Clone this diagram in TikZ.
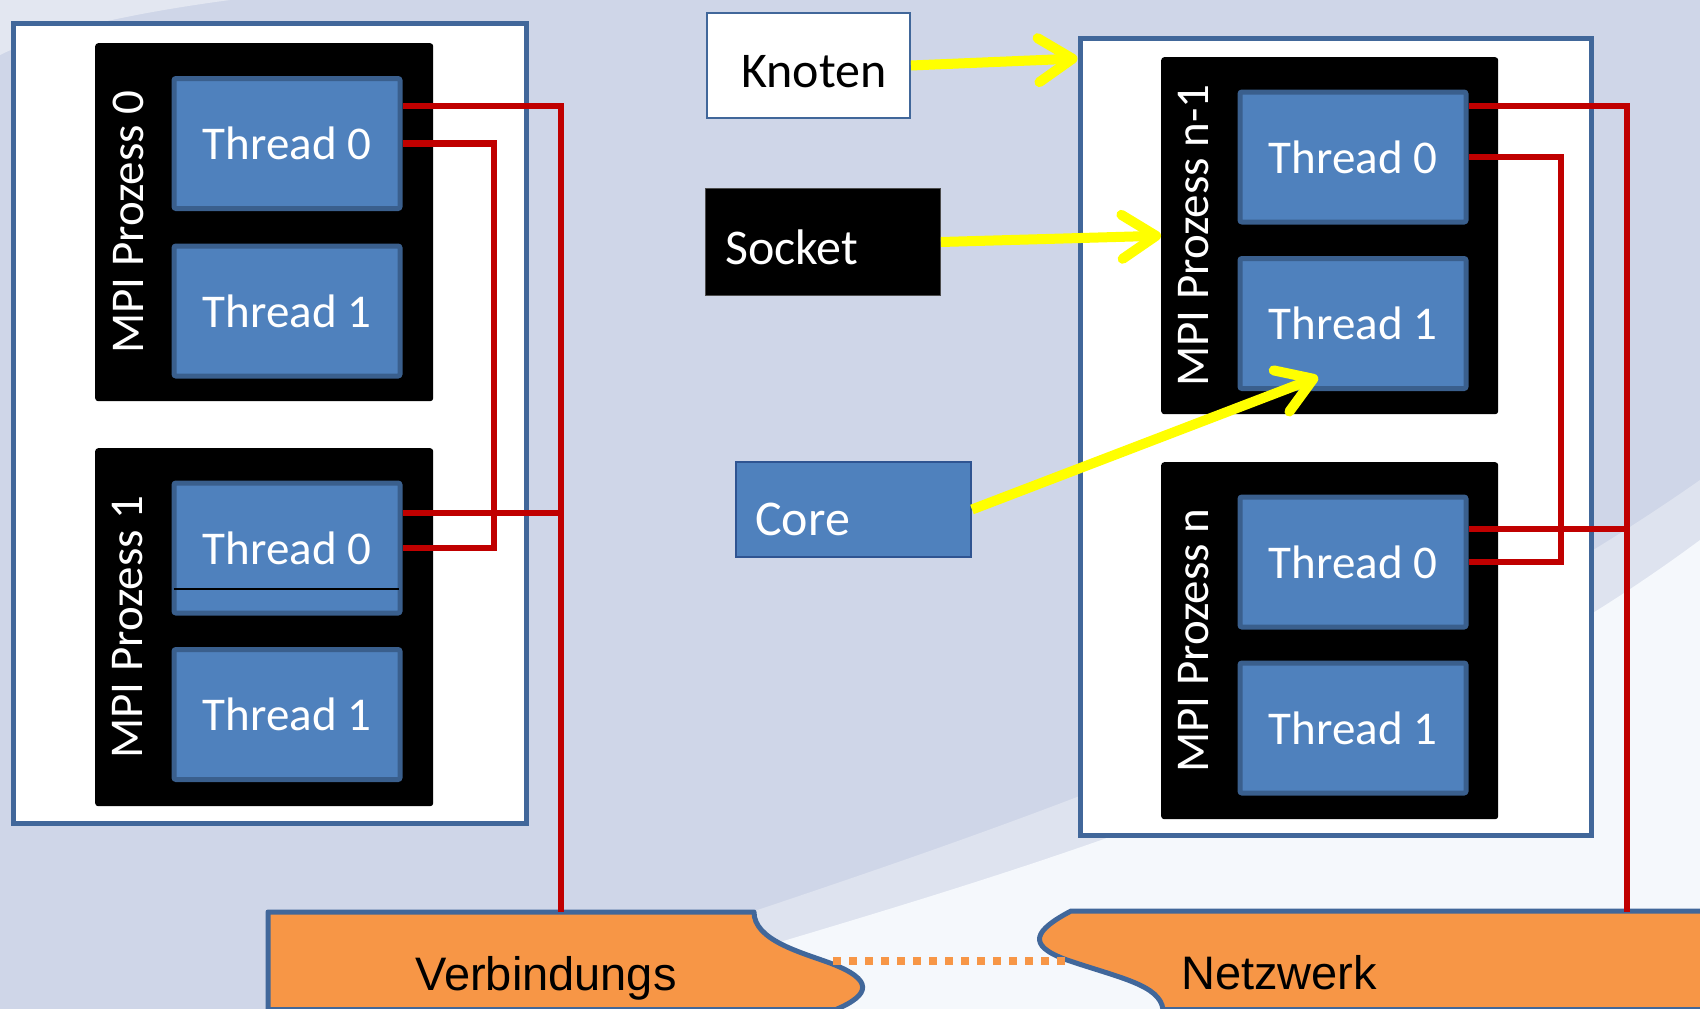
\documentclass[tikz,border=0pt]{standalone}
\usepackage{fontspec}
\setmainfont{Carlito}
\newfontfamily\labelfont{Liberation Sans}
\usetikzlibrary{arrows.meta,calc}

\definecolor{bgblue}{HTML}{CFD6E8}
\definecolor{bgmid}{HTML}{DEE3EF}
\definecolor{bglight}{HTML}{F5F8FC}
\definecolor{bgtop}{HTML}{E3E7F1}
\definecolor{frameblue}{HTML}{41679A}
\definecolor{threadfill}{HTML}{4F81BD}
\definecolor{threadedge}{HTML}{3A5F8D}
\definecolor{coreedge}{HTML}{2F5491}
\definecolor{linkred}{HTML}{C00000}
\definecolor{netorange}{HTML}{F79646}
\definecolor{arrowyellow}{HTML}{FFFF00}

\begin{document}
\begin{tikzpicture}[x=1pt,y=-1pt,
  hostbox/.style={draw=frameblue,fill=white,line width=5pt,anchor=north west,inner sep=0pt},
  procbox/.style={fill=black,rounded corners=3pt,anchor=north west,inner sep=0pt,
    minimum width=338pt,minimum height=358pt},
  proclabel/.style={text=white,rotate=90,inner sep=0pt,font=\fontsize{47}{56}\selectfont},
  threadbox/.style={draw=threadedge,fill=threadfill,line width=5pt,rounded corners=2pt,
    minimum width=226pt,minimum height=130pt,inner sep=0pt,text=white,
    font=\fontsize{47}{56}\selectfont},
  redlink/.style={draw=linkred,line width=6.5pt},
  yarrow/.style={draw=arrowyellow,line width=10pt,
    -{Straight Barb[length=34pt,width=44pt,line cap=round,line join=round]}},
  legendtext/.style={anchor=base west,inner sep=0pt,font=\fontsize{50}{60}\selectfont},
  netshape/.style={draw=frameblue,fill=netorange,line width=5pt,line join=round},
  nettext/.style={anchor=base,inner sep=0pt,font=\labelfont\fontsize{47}{56}\selectfont},
  dotlink/.style={draw=netorange,line width=8pt,dash pattern=on 8pt off 8pt}]

\useasboundingbox (0,0) rectangle (1700,1009);
\clip (0,0) rectangle (1700,1009);

% backdrop with the light swoosh
\fill[bgblue] (0,0) rectangle (1700,1009);
\fill[bgmid] (470,1009) .. controls (820,880) and (1300,760) .. (1700,480) -- (1700,1009) -- cycle;
\fill[bglight] (560,1009) .. controls (900,900) and (1350,800) .. (1700,540) -- (1700,1009) -- cycle;
\fill[bgtop] (0,0) -- (230,0) .. controls (140,12) and (50,30) .. (0,55) -- cycle;

% compute nodes
\node[hostbox,minimum width=513pt,minimum height=800pt] (hostL) at (10.5,20.5) {};
\node[hostbox,minimum width=511pt,minimum height=797pt] (hostR) at (1077.5,35.5) {};

% MPI processes
\node[procbox] (p0) at (95,43) {};
\node[procbox] (p1) at (95,448) {};
\node[procbox,minimum width=337pt,minimum height=357pt] (pn1) at (1161,57) {};
\node[procbox,minimum width=337pt,minimum height=357pt] (pn) at (1161,462) {};

\node[proclabel] (p0lab) at ($(p0.west)+(33,0)$) {MPI Prozess 0};
\node[proclabel] (p1lab) at ($(p1.west)+(33,0)$) {MPI Prozess 1};
\node[proclabel] (pn1lab) at ($(pn1.west)+(33,0)$) {MPI Prozess n-1};
\node[proclabel] (pnlab) at ($(pn.west)+(33,0)$) {MPI Prozess n};

% threads
\node[threadbox] (t00) at (287,143.5) {Thread 0};
\node[threadbox] (t01) at (287,311) {Thread 1};
\node[threadbox] (t10) at (287,548) {Thread 0};
\node[threadbox] (t11) at (287,714.5) {Thread 1};
\node[threadbox] (tn10) at (1353,157) {Thread 0};
\node[threadbox] (tn11) at (1353,323.5) {Thread 1};
\node[threadbox] (tn0) at (1353,562) {Thread 0};
\node[threadbox] (tn1) at (1353,728) {Thread 1};
\draw[line width=1.2pt,black] ([xshift=2pt,yshift=-41pt]t10.west) -- ([xshift=-4pt,yshift=-41pt]t10.east);

% orange network pieces
\draw[netshape] (268,1009.5) -- (268,912) -- (754,912)
  .. controls (754,940) and (800,952) .. (830,963)
  .. controls (875,980) and (870,995) .. (836,1009.5) -- cycle;
\draw[netshape] (1720,1009.5) -- (1720,911) -- (1071,911)
  .. controls (1035,930) and (1025,945) .. (1067,960)
  .. controls (1120,978) and (1160,985) .. (1163,1009.5) -- cycle;
\node[nettext] (vbtext) at (546,990) {Verbindungs};
\node[nettext] (nwtext) at (1279,989) {Netzwerk};
\coordinate (vbjoin) at (833,961);
\coordinate (nwjoin) at (1066,961);
\draw[dotlink] (vbjoin) -- (nwjoin);

% links into the network
\coordinate (busL) at (561,912);
\coordinate (loopL) at (494,300);
\coordinate (busR) at (1627,912);
\coordinate (loopR) at (1561,300);
\path ([yshift=35pt]t10.east) coordinate (b10);
\path ([yshift=33pt]tn0.east) coordinate (bn0);

\draw[redlink] ([yshift=37.5pt]t00.east) -| (busL);
\draw[redlink] (b10) -- (b10 -| busL);
\draw[redlink] (t00.east) -| (loopL) |- (t10.east);
\draw[redlink] ([yshift=51pt]tn10.east) -| (busR);
\draw[redlink] (bn0) -- (bn0 -| busR);
\draw[redlink] (tn10.east) -| (loopR) |- (tn0.east);

% legend
\node[draw=frameblue,line width=2pt,fill=white,anchor=north west,inner sep=0pt,
  minimum width=203pt,minimum height=105pt] (kn) at (706,12) {};
\node[legendtext] (kntext) at (741,87) {Knoten};
\node[fill=black,draw=black!70,line width=1pt,anchor=north west,inner sep=0pt,
  minimum width=235pt,minimum height=107pt] (so) at (705,188) {};
\node[legendtext,text=white] (sotext) at (725,264) {Socket};
\node[fill=threadfill,draw=coreedge,line width=2pt,anchor=north west,inner sep=0pt,
  minimum width=235pt,minimum height=95pt] (co) at (735,461) {};
\node[legendtext,text=white] (cotext) at (755,535) {Core};

\coordinate (coretip) at (1318,377);
\draw[yarrow] (kn.east) -- ([yshift=-23pt]hostR.north west);
\draw[yarrow] (so.east) -- (pn1.west);
\draw[yarrow] (co.east) -- (coretip);

\end{tikzpicture}
\end{document}
